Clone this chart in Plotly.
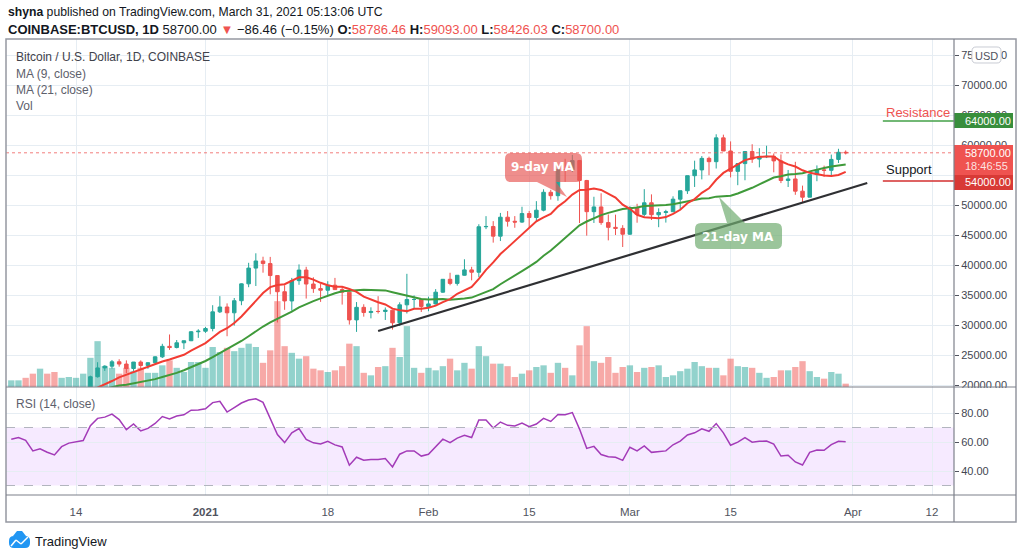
import numpy as np
import pandas as pd
import plotly.graph_objects as go

# ---------------- data ----------------
dates = pd.date_range("2020-12-05", "2021-03-31", freq="D")

open_ = [18650, 19147, 19359, 19166, 18324, 18541, 18254, 18036, 18808, 19175, 19273, 19439, 21379, 22847,
         23138, 23869, 23490, 22745, 23824, 23249, 23715, 24693, 26443, 26246, 27036, 27377, 28875,
         28966, 29412, 32195, 33000, 32035, 34047, 36860, 39486, 40670, 40240, 38240, 35545, 34011, 37393,
         39158, 36828, 36065, 35793, 36632, 35900, 35468, 30850, 32945, 32078, 32259, 32254, 32467, 30366,
         33364, 34252, 34262,
         33092, 33514, 35473, 37618, 36936, 38290, 39186, 38795, 46374, 46420, 44807, 47969, 47287, 47153,
         48577, 47911, 49133, 52119, 51553, 55906, 55841, 57408, 54087, 48891, 49676, 47073, 46276, 46106,
         45135, 49587, 48440, 50369, 48374, 48751, 48882, 50971, 52375, 54884, 55851, 57773, 57221, 61188,
         59000, 55605, 56900, 58912, 57650, 58030, 58102, 57351, 54083, 54340, 52303, 51300, 55070, 55850,
         55780, 57600, 58786.46]
high = [19177, 19420, 19420, 19294, 18639, 18557, 18283, 18948, 19411, 19349, 19567, 21560, 23800, 23285,
        24170, 24295, 24102, 23837, 24100, 23800, 24789, 26867, 28422, 27500, 27370, 28996, 29300,
        29680, 33300, 34810, 33600, 34500, 36939, 40365, 41950, 41380, 41350, 38264, 36628, 37850, 40100,
        39700, 37950, 36852, 37299, 37850, 36415, 35600, 33826, 33456, 32944, 34802, 32921, 32557, 33783,
        38531, 34933, 34342,
        34717, 35984, 37662, 38708, 38310, 40955, 39700, 46794, 48142, 47310, 48678, 48985, 48150, 49707,
        49010, 50642, 52618, 52530, 56368, 57700, 58352, 57508, 54183, 51374, 51948, 48424, 48394, 46638,
        49791, 50200, 52640, 51773, 49448, 49200, 51450, 52402, 54895, 57387, 58150, 58058, 61788, 61724,
        60600, 56938, 58981, 60129, 59468, 59880, 58589, 58430, 55838, 57200, 53230, 55100, 56600, 56560,
        58400, 59368, 59093.00]
low = [18500, 18857, 18902, 18200, 17650, 17911, 17572, 18020, 18711, 19000, 19050, 19297, 21230, 22350,
       22750, 23060, 22000, 22350, 22600, 22700, 23440, 24500, 25856, 26101, 25987, 27320, 27850,
       28690, 28946, 32000, 28130, 29900, 33300, 36300, 36500, 38720, 35111, 30420, 32531, 32380, 36701,
       34408, 35357, 33850, 34883, 35844, 33400, 30071, 28850, 31390, 31106, 31910, 30837, 29241, 29842,
       31915, 32825, 32167,
       32296, 33418, 35362, 36620, 36570, 38217, 37446, 37988, 45979, 43727, 43994, 46400, 46202, 47014,
       46300, 47150, 48947, 50901, 50710, 53863, 55477, 46987, 44892, 47003, 46700, 44106, 45000, 43000,
       45019, 47047, 48100, 47500, 46300, 47070, 48882, 49274, 51840, 53005, 54271, 54962, 56083, 59017,
       54600, 53300, 54120, 57023, 56270, 57820, 55450, 53650, 53000, 51700, 50400, 51300, 53966, 54700,
       54900, 57000, 58426.03]
close = [19147, 19359, 19166, 18324, 18541, 18254, 18036, 18808, 19175, 19273, 19439, 21379, 22847, 23138,
         23869, 23490, 22745, 23824, 23249, 23715, 24693, 26443, 26246, 27036, 27377, 28875, 28966,
         29412, 32195, 33000, 32035, 34047, 36860, 39486, 40670, 40240, 38240, 35545, 34011, 37393, 39158,
         36828, 36065, 35793, 36632, 35900, 35468, 30850, 32945, 32078, 32259, 32254, 32467, 30366, 33364,
         34252, 34262, 33092,
         33514, 35473, 37618, 36936, 38290, 39186, 38795, 46374, 46420, 44807, 47969, 47287, 47153, 48577,
         47911, 49133, 52119, 51553, 55906, 55841, 57408, 54087, 48891, 49676, 47073, 46276, 46106, 45135,
         49587, 48440, 50369, 48374, 48751, 48882, 50971, 52375, 54884, 55851, 57773, 57221, 61188, 59000,
         55605, 56900, 58912, 57650, 58030, 58102, 57351, 54083, 54340, 52303, 51300, 55070, 55850, 55780,
         57600, 58786.46, 58700.00]
# volume, thousand BTC
volume = [8, 8, 11, 16, 22, 16, 18, 11, 12, 11, 16, 35, 55, 25, 23, 16, 23, 19, 23, 17, 17, 26, 32, 23, 18, 30, 30,
          23, 48, 42, 47, 43, 47, 52, 48, 29, 44, 103, 49, 41, 34, 37, 22, 20, 18, 20, 25, 52, 49, 17, 14, 24,
          25, 47, 36, 73, 23, 17,
          23, 20, 25, 34, 20, 29, 22, 49, 37, 28, 28, 25, 12, 16, 20, 24, 26, 17, 29, 23, 14, 50, 73, 31, 29,
          36, 17, 24,
          26, 18, 23, 24, 26, 12, 14, 19, 22, 30, 25, 23, 23, 14, 34, 25, 24, 23, 17, 11, 12, 20, 20, 24, 31,
          19, 12, 10, 18, 16, 4]
# closes 2020-10-20 .. 2020-12-04 (history needed by MA / RSI)
warmup_close = [11916, 12823, 12965, 12931, 13108, 13031, 13068, 13654, 13271, 13455, 13560, 13801,
                13761, 13549, 14023, 14146, 15591, 15580, 14833, 15479, 15332, 15299, 15701, 16276,
                16317, 16068, 15955, 16716, 17645, 17804, 17817, 18621, 18642, 18370, 18365, 19104,
                18730, 17149, 17139, 17719, 18185, 19696, 18765, 19204, 19422, 18650]

trend_line = {"x": ["2021-01-25", "2021-04-03"], "y": [29000, 53667]}
resistance_level = 64000
support_level = 54000
last_price = 58700.00

x_tickvals = ["2020-12-14", "2021-01-01", "2021-01-18", "2021-02-01", "2021-02-15",
              "2021-03-01", "2021-03-15", "2021-04-01", "2021-04-12"]
x_ticktext = ["14", "<b>2021</b>", "18", "Feb", "15", "Mar", "15", "Apr", "12"]
price_ticks = list(range(20000, 75001, 5000))
# the 55000 label is fully covered by the price/support labels in the reference
price_ticktext = ["" if v == 55000 else f"{v:.2f}" for v in price_ticks]
rsi_ticks = [40, 60, 80]

# ---------------- indicators ----------------
allc = np.array(warmup_close + close, dtype=float)
nw = len(warmup_close)


def sma(a, n):
    return pd.Series(a).rolling(n).mean().to_numpy()


def rsi(a, n=14):
    d = np.diff(a)
    g = np.where(d > 0, d, 0.0)
    l = np.where(d < 0, -d, 0.0)
    out = np.full(len(a), np.nan)
    ag = g[:n].mean()
    al = l[:n].mean()
    out[n] = 100 - 100 / (1 + ag / al)
    for i in range(n + 1, len(a)):
        ag = (ag * (n - 1) + g[i - 1]) / n
        al = (al * (n - 1) + l[i - 1]) / n
        out[i] = 100 - 100 / (1 + ag / al)
    return out


ma9 = sma(allc, 9)[nw:]
ma21 = sma(allc, 21)[nw:]
rsi14 = rsi(allc, 14)[nw:]

UP, DN = "#26a69a", "#ef5350"
vol_colors = ["rgba(38,166,154,0.5)" if c >= o else "rgba(239,83,80,0.5)" for o, c in zip(open_, close)]

# ---------------- geometry helpers (pixel -> paper) ----------------
L, R, T, B = 6, 954, 39, 495
W, H = R - L, B - T


def X(px):
    return (px - L) / W


def Y(py):
    return (B - py) / H


def path(points):
    return "M " + " L ".join(f"{X(a):.5f},{Y(b):.5f}" for a, b in points) + " Z"


def rrect(x0, y0, x1, y1, r, notch=None, side=None):
    # rounded rectangle with optional pointer notch (list of 3 points)
    def p(a, b):
        return f"{X(a):.5f},{Y(b):.5f}"
    s = f"M {p(x0 + r, y0)} "
    if side == "top":
        s += " ".join(f"L {p(a, b)}" for a, b in notch) + " "
    s += f"L {p(x1 - r, y0)} Q {p(x1, y0)} {p(x1, y0 + r)} L {p(x1, y1 - r)} Q {p(x1, y1)} {p(x1 - r, y1)} "
    if side == "bottom":
        s += " ".join(f"L {p(a, b)}" for a, b in notch) + " "
    s += f"L {p(x0 + r, y1)} Q {p(x0, y1)} {p(x0, y1 - r)} L {p(x0, y0 + r)} Q {p(x0, y0)} {p(x0 + r, y0)} Z"
    return s


main_bottom = (B - 387) / H
xr = ["2020-12-04 06:25", "2021-04-15 01:25"]

fig = go.Figure()
fig.add_trace(go.Bar(x=dates, y=volume, marker=dict(color=vol_colors, line=dict(width=0)),
                     width=0.88 * 86400000, xaxis="x", yaxis="y", hoverinfo="skip"))
fig.add_trace(go.Candlestick(x=dates, open=open_, high=high, low=low, close=close,
                             increasing=dict(line=dict(color=UP, width=1), fillcolor=UP),
                             decreasing=dict(line=dict(color=DN, width=1), fillcolor=DN),
                             whiskerwidth=0, xaxis="x", yaxis="y2", hoverinfo="skip"))
fig.add_trace(go.Scatter(x=dates, y=ma21, mode="lines", line=dict(color="#3f9a3a", width=2),
                         xaxis="x", yaxis="y2", hoverinfo="skip"))
fig.add_trace(go.Scatter(x=dates, y=ma9, mode="lines", line=dict(color="#f23c33", width=2),
                         xaxis="x", yaxis="y2", hoverinfo="skip"))
fig.add_trace(go.Scatter(x=dates, y=rsi14, mode="lines", line=dict(color="#a33bb8", width=1.5),
                         xaxis="x2", yaxis="y3", hoverinfo="skip"))

grid = "#e6edf3"
axfont = dict(family="Liberation Sans", size=11, color="#434651")
common_x = dict(type="date", range=xr, tickvals=x_tickvals, showgrid=True, gridcolor=grid,
                zeroline=False, showline=False, fixedrange=True)

fig.update_layout(
    width=1024, height=557, autosize=False,
    margin=dict(l=L, r=1024 - R, t=T, b=557 - B),
    paper_bgcolor="white", plot_bgcolor="white", showlegend=False,
    font=dict(family="Liberation Sans", color="#131722"),
    xaxis=dict(domain=[0, 1], anchor="y", showticklabels=False, rangeslider=dict(visible=False), **common_x),
    xaxis2=dict(domain=[0, 1], anchor="y3", matches="x", ticktext=x_ticktext, ticks="outside",
                ticklen=6, tickcolor="rgba(0,0,0,0)", tickfont=dict(family="Liberation Sans", size=11.5,
                                                                    color="#50535e"), **common_x),
    yaxis=dict(domain=[main_bottom, 1], range=[0, 348 * 1.2], visible=False, fixedrange=True),
    yaxis2=dict(overlaying="y", anchor="x", side="right", range=[19667, 77667], tickvals=price_ticks,
                ticktext=price_ticktext, ticks="outside", ticklen=4, tickcolor="#50535e", tickfont=axfont,
                showgrid=True, gridcolor=grid, zeroline=False, fixedrange=True),
    yaxis3=dict(domain=[0, main_bottom], anchor="x2", side="right", range=[23.45, 97.93], tickvals=rsi_ticks,
                tickformat=".2f", ticks="outside", ticklen=4, tickcolor="#50535e", tickfont=axfont,
                showgrid=True, gridcolor=grid, zeroline=False, fixedrange=True),
)

shapes = []
# RSI band and levels
shapes.append(dict(type="rect", xref="x2 domain", yref="y3", x0=0, x1=1, y0=30, y1=70,
                   fillcolor="rgba(153,21,255,0.09)", line=dict(width=0), layer="below"))
for lv in (70, 30):
    shapes.append(dict(type="line", xref="x2 domain", yref="y3", x0=0, x1=1, y0=lv, y1=lv,
                       line=dict(color="#b2b5be", width=1, dash="dash")))
# last price dotted line
shapes.append(dict(type="line", xref="x domain", yref="y2", x0=0, x1=1, y0=last_price, y1=last_price,
                   line=dict(color="rgba(239,83,80,0.75)", width=1, dash="dot")))
# trend line
shapes.append(dict(type="line", xref="x", yref="y2", x0=trend_line["x"][0], x1=trend_line["x"][1],
                   y0=trend_line["y"][0], y1=trend_line["y"][1], line=dict(color="#2f3033", width=2.2)))
# resistance / support
shapes.append(dict(type="line", xref="x", yref="y2", x0="2021-04-05 04:00", x1=xr[1],
                   y0=resistance_level, y1=resistance_level, line=dict(color="#43a047", width=1.5)))
shapes.append(dict(type="line", xref="x", yref="y2", x0="2021-04-05 04:00", x1=xr[1],
                   y0=support_level, y1=support_level, line=dict(color="#d32f2f", width=1.5)))
# callouts
shapes.append(dict(type="path", xref="paper", yref="paper",
                   path=rrect(505, 153, 582, 182, 6, notch=[(556, 182), (567, 197), (537, 182)], side="bottom"),
                   fillcolor="rgba(232,88,86,0.68)", line=dict(width=0)))
shapes.append(dict(type="path", xref="paper", yref="paper",
                   path=rrect(695, 223, 782, 249, 6, notch=[(727, 223), (719, 197), (745, 223)], side="top"),
                   fillcolor="rgba(112,172,112,0.7)", line=dict(width=0)))
# price-axis labels
shapes.append(dict(type="rect", xref="paper", yref="paper", x0=X(955), x1=X(1015), y0=Y(388), y1=Y(397),
                   fillcolor="white", line=dict(width=0)))
shapes.append(dict(type="rect", xref="paper", yref="paper", x0=X(954), x1=X(1013), y0=Y(128), y1=Y(113),
                   fillcolor="#388e3c", line=dict(width=0)))
shapes.append(dict(type="rect", xref="paper", yref="paper", x0=X(954), x1=X(1013), y0=Y(175), y1=Y(145),
                   fillcolor="#ef5350", line=dict(width=0)))
shapes.append(dict(type="rect", xref="paper", yref="paper", x0=X(954), x1=X(1013), y0=Y(190), y1=Y(175),
                   fillcolor="#d83a36", line=dict(width=0)))
shapes.append(dict(type="path", xref="paper", yref="paper", path=rrect(972, 47, 1001, 63, 4),
                   fillcolor="white", line=dict(color="#c9ccd4", width=1)))
# frame and separators
fc = "#7d808a"
shapes.append(dict(type="rect", xref="paper", yref="paper", x0=X(6), x1=X(1016), y0=Y(522), y1=Y(39),
                   line=dict(color="#9598a1", width=1.5)))
shapes.append(dict(type="line", xref="paper", yref="paper", x0=X(954), x1=X(954), y0=Y(522), y1=Y(39),
                   line=dict(color=fc, width=1.2)))
for yy in (387, 495):
    shapes.append(dict(type="line", xref="paper", yref="paper", x0=X(6), x1=X(1016), y0=Y(yy), y1=Y(yy),
                       line=dict(color=fc, width=1.2)))
# TradingView logo (cloud)
shapes.append(dict(type="path", xref="paper", yref="paper",
                   path=rrect(9, 536, 30, 548, 5), fillcolor="#2196f3", line=dict(width=0)))
shapes.append(dict(type="path", xref="paper", yref="paper",
                   path=path([(13, 536), (17, 531), (22, 531), (26, 536)]), fillcolor="#2196f3",
                   line=dict(width=0)))
shapes.append(dict(type="line", xref="paper", yref="paper", x0=X(11), y0=Y(546), x1=X(16), y1=Y(540),
                   line=dict(color="white", width=1.5)))
shapes.append(dict(type="line", xref="paper", yref="paper", x0=X(16), y0=Y(540), x1=X(21), y1=Y(544),
                   line=dict(color="white", width=1.5)))
shapes.append(dict(type="line", xref="paper", yref="paper", x0=X(21), y0=Y(544), x1=X(28), y1=Y(537),
                   line=dict(color="white", width=1.5)))
fig.update_layout(shapes=shapes)

ann = []


def text(px, py, s, size=12, color="#131722", anchor="left", family="Liberation Sans"):
    ann.append(dict(xref="paper", yref="paper", x=X(px), y=Y(py), text=s, showarrow=False,
                    xanchor=anchor, yanchor="middle", font=dict(family=family, size=size, color=color)))


RED = "#ef5350"
text(6, 12, "<b>shyna</b> published on TradingView.com, March 31, 2021 05:13:06 UTC", 12.2)
text(6, 29, "<b>COINBASE:BTCUSD, 1D</b> 58700.00 "
            f"<span style='color:{RED}'>▼</span> −86.46 (−0.15%) "
            f"<b>O:</b><span style='color:{RED}'>58786.46</span> "
            f"<b>H:</b><span style='color:{RED}'>59093.00</span> "
            f"<b>L:</b><span style='color:{RED}'>58426.03</span> "
            f"<b>C:</b><span style='color:{RED}'>58700.00</span>", 13)
text(14, 57, "Bitcoin / U.S. Dollar, 1D, COINBASE", 12, "#3f424b")
text(14, 74, "MA (9, close)", 12, "#5d606b")
text(14, 90, "MA (21, close)", 12, "#5d606b")
text(14, 106, "Vol", 12, "#5d606b")
text(14, 404, "RSI (14, close)", 12, "#5d606b")
text(543, 167, "<b>9-day MA</b>", 12, "white", "center", "DejaVu Sans")
text(738, 237, "<b>21-day MA</b>", 12, "white", "center", "DejaVu Sans")
text(884, 113, "Resistance", 13, RED)
text(884, 170, "Support", 13, "#131722")
text(963, 121, "64000.00", 11, "white")
text(963, 153, "58700.00", 11, "white")
text(963, 166, "18:46:55", 11, "rgba(255,255,255,0.85)")
text(963, 182, "54000.00", 11, "white")
text(986.5, 55.5, "USD", 11, "#50535e", "center")
text(33, 541, "TradingView", 13, "#131722")
fig.update_layout(annotations=ann)

fig.write_html("out.html", config={"displayModeBar": False},
               post_script="document.body.style.margin='0';")
